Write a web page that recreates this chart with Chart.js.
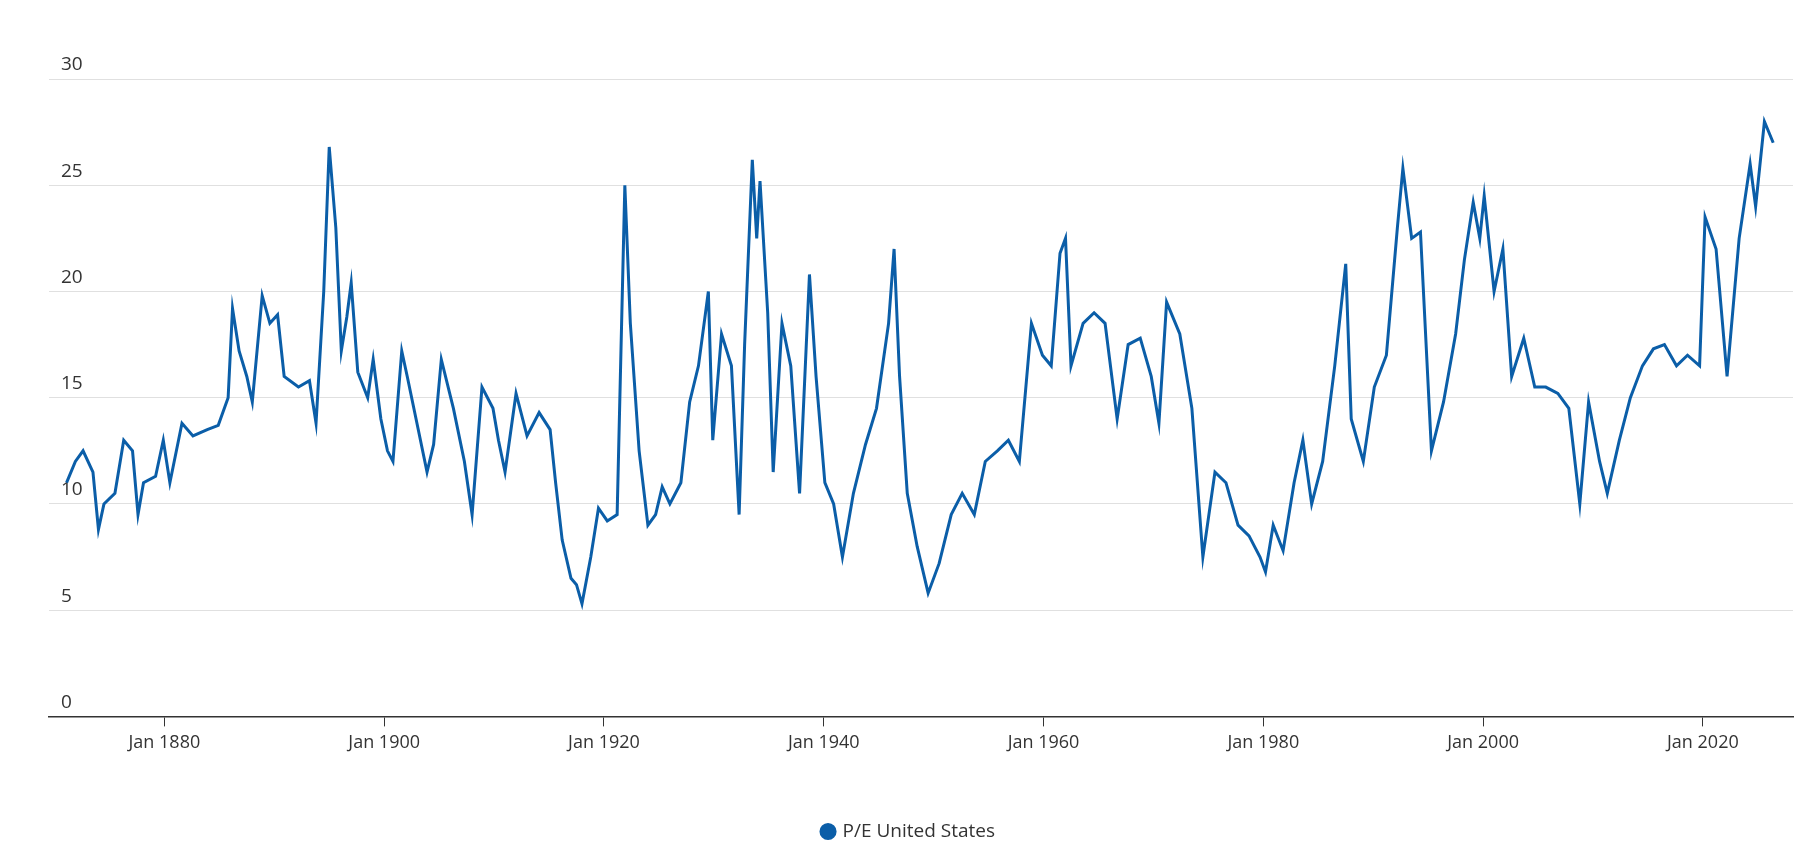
<!DOCTYPE html>
<html>
<head>
<meta charset="utf-8">
<script src="https://cdn.jsdelivr.net/npm/chart.js@4/dist/chart.umd.min.js"></script>
<style>
  html, body { margin: 0; padding: 0; background: #fff; }
  #wrap { width: 1818px; height: 859px; }
</style>
</head>
<body>
<div id="wrap"><canvas id="peChart"></canvas></div>
<script>
// years (decimal) and P/E values
const years = [1871.1, 1871.9, 1872.6, 1873.5, 1874, 1874.5, 1875.5, 1876.3, 1877.1, 1877.6, 1878.1, 1879.2, 1879.9, 1880.5, 1881.6, 1882.6, 1883.9, 1884.9, 1885.8, 1886.2, 1886.8, 1887.5, 1888, 1888.9, 1889.6, 1890.3, 1890.9, 1892.2, 1893.2, 1893.8, 1894.5, 1895, 1895.6, 1896.1, 1896.6, 1897, 1897.6, 1898.5, 1899, 1899.7, 1900.3, 1900.8, 1901.6, 1902.1, 1903.1, 1903.9, 1904.5, 1905.2, 1906.3, 1907.3, 1908, 1908.9, 1909.9, 1910.4, 1911, 1912, 1913, 1914.1, 1915.1, 1915.6, 1916.2, 1917, 1917.5, 1918, 1918.8, 1919.5, 1920.3, 1921.2, 1921.9, 1922.4, 1923.2, 1924, 1924.7, 1925.3, 1926, 1927, 1927.8, 1928.6, 1929.5, 1929.9, 1930.7, 1931.6, 1932.3, 1932.8, 1933.5, 1933.9, 1934.2, 1934.9, 1935.4, 1936.2, 1937, 1937.8, 1938.7, 1939.3, 1940.1, 1940.9, 1941.7, 1942.7, 1943.8, 1944.8, 1945.9, 1946.4, 1946.9, 1947.6, 1948.5, 1949.5, 1950.5, 1951.6, 1952.6, 1953.7, 1954.7, 1955.8, 1956.8, 1957.8, 1958.9, 1959.9, 1960.7, 1961.5, 1962, 1962.5, 1963.6, 1964.6, 1965.6, 1966.7, 1967.7, 1968.8, 1969.8, 1970.5, 1971.2, 1972.4, 1973.5, 1974.5, 1975.6, 1976.6, 1977.7, 1978.7, 1979.7, 1980.2, 1980.9, 1981.8, 1982.8, 1983.6, 1984.4, 1985.4, 1986.5, 1987.5, 1988, 1989.1, 1990.1, 1991.2, 1992.2, 1992.7, 1993.5, 1994.3, 1995.3, 1996.4, 1997.5, 1998.3, 1999.1, 1999.7, 2000.1, 2001, 2001.8, 2002.6, 2003.7, 2004.7, 2005.7, 2006.8, 2007.8, 2008.8, 2009.6, 2010.6, 2011.3, 2012.4, 2013.4, 2014.5, 2015.5, 2016.5, 2017.6, 2018.6, 2019.7, 2020.2, 2021.2, 2022.2, 2023.3, 2024.3, 2024.8, 2025.6, 2026.4];
const peValues = [11, 12, 12.5, 11.5, 8.8, 10, 10.5, 13, 12.5, 9.5, 11, 11.3, 13, 11, 13.8, 13.2, 13.5, 13.7, 15, 19.2, 17.2, 16, 14.8, 19.8, 18.5, 18.9, 16, 15.5, 15.8, 13.8, 20, 26.8, 23, 17.2, 18.8, 20.4, 16.2, 15, 16.8, 14, 12.5, 12, 17.2, 16, 13.5, 11.5, 12.8, 16.8, 14.5, 12, 9.5, 15.5, 14.5, 13, 11.5, 15.2, 13.2, 14.3, 13.5, 11, 8.3, 6.5, 6.2, 5.3, 7.5, 9.8, 9.2, 9.5, 25, 18.5, 12.5, 9, 9.5, 10.8, 10, 11, 14.8, 16.5, 20, 13, 18, 16.5, 9.5, 17.5, 26.2, 22.5, 25.2, 19, 11.5, 18.5, 16.5, 10.5, 20.8, 16, 11, 10, 7.5, 10.5, 12.8, 14.5, 18.5, 22, 16, 10.5, 8, 5.8, 7.2, 9.5, 10.5, 9.5, 12, 12.5, 13, 12, 18.5, 17, 16.5, 21.8, 22.5, 16.5, 18.5, 19, 18.5, 14, 17.5, 17.8, 16, 13.8, 19.5, 18, 14.5, 7.5, 11.5, 11, 9, 8.5, 7.5, 6.8, 9, 7.8, 11, 13, 10, 12, 16.5, 21.3, 14, 12, 15.5, 17, 23, 25.8, 22.5, 22.8, 12.5, 14.8, 18, 21.5, 24.2, 22.5, 24.5, 20, 22, 16, 17.8, 15.5, 15.5, 15.2, 14.5, 10, 14.8, 12, 10.5, 13, 15, 16.5, 17.3, 17.5, 16.5, 17, 16.5, 23.5, 22, 16, 22.5, 26, 24, 28, 27];
const xTicks = [1880, 1900, 1920, 1940, 1960, 1980, 2000, 2020];
const yTicks = [0, 5, 10, 15, 20, 25, 30];

const lineColor = '#0b5ea8';
const points = years.map((y, i) => ({ x: y, y: peValues[i] }));

new Chart(document.getElementById('peChart').getContext('2d'), {
    type: 'line',
    data: {
        datasets: [{
            label: 'P/E United States',
            data: points,
            borderColor: lineColor,
            backgroundColor: lineColor,
            borderWidth: 3,
            pointRadius: 0,
            pointHoverRadius: 4,
            tension: 0
        }]
    },
    options: {
        responsive: true,
        maintainAspectRatio: false,
        animation: false,
        layout: { padding: { left: 25, right: 25, top: 79, bottom: 8 } },
        plugins: {
            legend: {
                position: 'bottom',
                labels: {
                    usePointStyle: true,
                    pointStyle: 'circle',
                    boxWidth: 10,
                    boxHeight: 10,
                    padding: 62,
                    color: '#333',
                    font: { family: 'Open Sans', size: 19 }
                }
            },
            tooltip: { enabled: true }
        },
        scales: {
            x: {
                type: 'linear',
                min: 1869.5,
                max: 2028.2,
                afterBuildTicks: axis => { axis.ticks = xTicks.map(v => ({ value: v })); },
                ticks: {
                    color: '#333',
                    font: { family: 'Open Sans', size: 18 },
                    padding: 6,
                    maxRotation: 0,
                    callback: v => 'Jan ' + v
                },
                grid: { drawOnChartArea: false, tickLength: 10, color: '#333' },
                border: { color: '#333', width: 1.5 }
            },
            y: {
                min: 0,
                max: 30,
                afterBuildTicks: axis => { axis.ticks = yTicks.map(v => ({ value: v })); },
                ticks: {
                    mirror: true,
                    labelOffset: -14,
                    padding: 12,
                    color: '#333',
                    font: { family: 'Open Sans', size: 19 }
                },
                grid: { color: '#e0e0e0', drawTicks: false },
                border: { display: false }
            }
        }
    }
});
</script>
</body>
</html>
